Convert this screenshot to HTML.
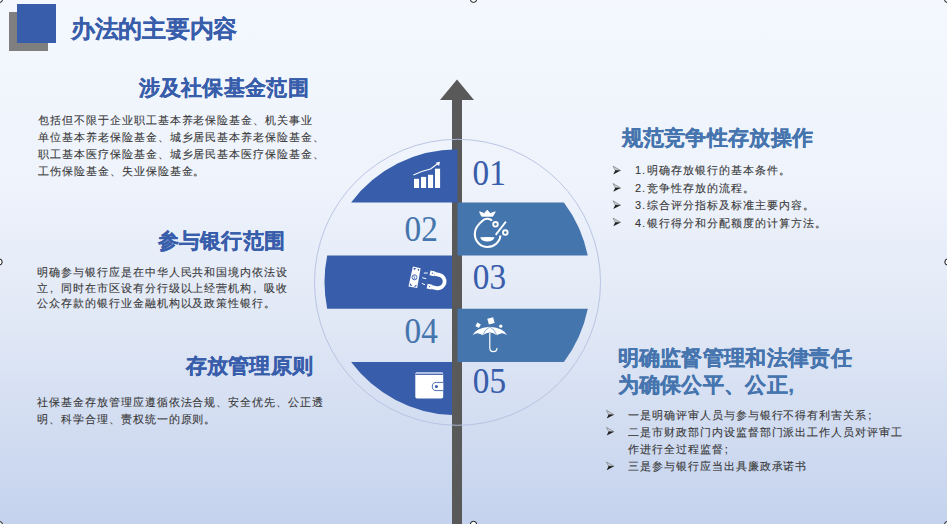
<!DOCTYPE html>
<html><head><meta charset="utf-8">
<style>
html,body{margin:0;padding:0;}
body{width:947px;height:524px;overflow:hidden;position:relative;font-family:"Liberation Sans",sans-serif;
background:linear-gradient(180deg,#f4f8fe 0%,#eef3fc 35%,#e2e9f6 60%,#c4d2ed 100%);}
.abs{position:absolute;white-space:nowrap;}
.h{font-weight:bold;font-size:21px;letter-spacing:0.33px;line-height:24px;-webkit-text-stroke:0.25px currentColor;}
.hl{color:#385dab;}
.hr{color:#4574ae;}
.p{font-size:11px;letter-spacing:0.96px;color:#383838;-webkit-text-stroke:0.1px #383838;}
.bl{position:absolute;font-size:11px;letter-spacing:0.96px;color:#383838;white-space:nowrap;-webkit-text-stroke:0.1px #383838;}
</style></head><body>
<!-- title block -->
<div class="abs" style="left:9px;top:12px;width:39px;height:39px;background:#7f7f7f"></div>
<div class="abs" style="left:17px;top:4px;width:39px;height:39px;background:#385dab"></div>
<div class="abs" style="left:71px;top:14.3px;letter-spacing:-0.3px;font-size:24px;font-weight:bold;color:#385dab;line-height:30px;-webkit-text-stroke:0.1px #385dab">办法的主要内容</div>

<!-- left blocks -->
<div class="abs h hl" style="left:138.5px;top:75.5px">涉及社保基金范围</div>
<div class="abs p" style="left:38px;top:111.5px;line-height:17.1px">包括但不限于企业职工基本养老保险基金、机关事业<br>单位基本养老保险基金、城乡居民基本养老保险基金、<br>职工基本医疗保险基金、城乡居民基本医疗保险基金、<br>工伤保险基金、失业保险基金。</div>

<div class="abs h hl" style="left:157.5px;top:229.4px">参与银行范围</div>
<div class="abs p" style="left:37px;top:265px;line-height:15.5px">明确参与银行应是在中华人民共和国境内依法设<br>立<span style="display:inline-block;width:11.96px;text-indent:1px">,</span>同时在市区设有分行级以上经营机构<span style="display:inline-block;width:11.96px;text-indent:1px">,</span>吸收<br>公众存款的银行业金融机构以及政策性银行。</div>

<div class="abs h hl" style="left:185.5px;top:353.5px">存放管理原则</div>
<div class="abs p" style="left:37px;top:393.5px;line-height:17.2px">社保基金存放管理应遵循依法合规、安全优先、公正透<br>明、科学合理、责权统一的原则。</div>

<!-- right blocks -->
<div class="abs h hr" style="left:621.5px;top:126px">规范竞争性存放操作</div>
<div class="bl" style="left:635px;top:163px">1.<span style="margin-left:-3px"> </span>明确存放银行的基本条件。</div>
<div class="bl" style="left:635px;top:180.8px">2.<span style="margin-left:-3px"> </span>竞争性存放的流程。</div>
<div class="bl" style="left:635px;top:198.1px">3.<span style="margin-left:-3px"> </span>综合评分指标及标准主要内容。</div>
<div class="bl" style="left:635px;top:215.5px">4.<span style="margin-left:-3px"> </span>银行得分和分配额度的计算方法。</div>

<div class="abs h hr" style="left:617.5px;top:345px;line-height:26.8px">明确监督管理和法律责任<br>为确保公平、公正,</div>
<div class="bl" style="left:628px;top:407.5px">一是明确评审人员与参与银行不得有利害关系<span style="display:inline-block;width:11.96px;text-indent:1px">;</span></div>
<div class="bl" style="left:628px;top:423.6px;line-height:17.3px">二是市财政部门内设监督部门派出工作人员对评审工<br>作进行全过程监督<span style="display:inline-block;width:11.96px;text-indent:1px">;</span></div>
<div class="bl" style="left:628px;top:459px">三是参与银行应当出具廉政承诺书</div>

<!-- diagram -->
<svg class="abs" style="left:0;top:0" width="947" height="524" viewBox="0 0 947 524">
  <!-- shaft -->
  <rect x="452" y="99" width="10" height="425" fill="#595959"/>
  <polygon points="457,79.5 440,100 474,100" fill="#595959"/>
  <!-- segments -->
  <path d="M457.5,149.2 A133,133 0 0 0 351.1,202.4 L457.5,202.4 Z" fill="#385dab"/>
  <path d="M457.5,202.4 L563.9,202.4 A133,133 0 0 1 587.8,255.6 L457.5,255.6 Z" fill="#4575ad"/>
  <path d="M452,255.6 L327.2,255.6 A133,133 0 0 0 327.2,308.8 L452,308.8 Z" fill="#385dab"/>
  <path d="M457.5,308.8 L587.8,308.8 A133,133 0 0 1 563.9,362 L457.5,362 Z" fill="#4575ad"/>
  <path d="M452,362 L351.1,362 A133,133 0 0 0 452,415.1 Z" fill="#385dab"/>
  <circle cx="457.5" cy="282.3" r="143" fill="none" stroke="#b2c0e0" stroke-width="0.9"/>
  <!-- numbers -->
  <g font-family="Liberation Serif" font-size="35" stroke-width="0.1">
    <text transform="translate(472.6 184.6) scale(0.95 1)" fill="#385dab" stroke="#385dab">01</text>
    <text transform="translate(404.6 241) scale(0.95 1)" fill="#4575ad" stroke="#4575ad">02</text>
    <text transform="translate(472.8 288.6) scale(0.95 1)" fill="#385dab" stroke="#385dab">03</text>
    <text transform="translate(404.6 342.9) scale(0.95 1)" fill="#4575ad" stroke="#4575ad">04</text>
    <text transform="translate(472.8 393.2) scale(0.95 1)" fill="#385dab" stroke="#385dab">05</text>
  </g>
  <!-- icon1 bar chart -->
  <g fill="#fff">
    <rect x="414" y="178.8" width="5.1" height="9.2"/>
    <rect x="421" y="176.9" width="5.1" height="11.1"/>
    <rect x="428" y="174.8" width="5.1" height="13.2"/>
    <rect x="435" y="168.7" width="5.1" height="19.3"/>
    <path d="M413.4,174.9 Q421,171.2 430.5,169 L438,163.5" fill="none" stroke="#fff" stroke-width="1.1"/>
    <polygon points="440,161.8 435.6,162.8 439.1,166"/>
  </g>
  <!-- icon2 bag -->
  <g fill="#fff">
    <polygon points="479.6,211.8 484.2,213.6 487.2,210.2 490.3,213.6 495.2,211.8 492.8,216.2 481.6,216.2" stroke="#fff" stroke-width="0.9" stroke-linejoin="round"/>
    <path d="M491.8,220.8 C490.5,218.2 484.5,217.8 482.5,220.8 C478,224.5 474.8,228.5 474.8,234 C475,242 481,247 487.5,247 C494,247 500,242 500.4,235.5" fill="none" stroke="#fff" stroke-width="2.1"/>
    <path d="M480.2,237.2 Q487.3,236.8 494.6,237.2 Q493,241.6 487.4,241.6 Q481.5,241.6 480.2,237.2 Z"/>
    <circle cx="495.5" cy="224.3" r="2.3" fill="none" stroke="#fff" stroke-width="1.9"/>
    <circle cx="505.3" cy="232.6" r="2.3" fill="none" stroke="#fff" stroke-width="1.9"/>
    <line x1="505.9" y1="221.6" x2="495.7" y2="234.9" stroke="#fff" stroke-width="1.8"/>
  </g>
  <!-- icon3 magnet -->
  <g fill="#fff">
    <polygon points="412.9,266.4 420.6,268.3 417.2,288 408.5,286.5"/>
    <g fill="#385dab">
      <polygon points="413.6,267.8 416.3,268.5 413.9,270.3"/>
      <polygon points="417.3,268.7 419.4,269.2 418.7,271.3"/>
      <polygon points="409.8,285.6 410.3,282.9 412.3,286"/>
      <polygon points="416.2,286.8 413.6,286.4 416.6,284.4"/>
    </g>
    <circle cx="414.5" cy="277.3" r="2.5" fill="none" stroke="#385dab" stroke-width="0.9"/>
    <path d="M415.3,275.9 Q413.3,275.6 413.8,277.2 Q415.4,277.5 415,278.8 Q413.6,279 413.4,278.5" fill="none" stroke="#385dab" stroke-width="0.6"/>
    <g stroke="#fff" stroke-width="1" fill="none" stroke-linecap="round">
      <line x1="424.2" y1="273.1" x2="427.3" y2="273"/>
      <line x1="422.6" y1="277.8" x2="425.8" y2="278.6"/>
      <line x1="422.2" y1="283.5" x2="424.6" y2="284.6"/>
    </g>
    <g transform="translate(-1.3 0) rotate(12 437 281)">
      <path d="M434.5,274.2 H439.2 A6.8,6.8 0 0 1 439.2,287.8 H434.5" fill="none" stroke="#fff" stroke-width="3.8"/>
      <rect x="429.7" y="271.8" width="4.9" height="4.8"/>
      <rect x="429.7" y="285.4" width="4.9" height="4.8"/>
      <rect x="431.6" y="273.6" width="1.1" height="1.1" fill="#385dab"/>
      <rect x="431.6" y="287.2" width="1.1" height="1.1" fill="#385dab"/>
    </g>
  </g>
  <!-- icon4 umbrella -->
  <g fill="#fff">
    <path d="M472.6,335.3 Q475.5,328 489.8,326.7 Q504,328 507,335.3 Q504,333 501,333.4 Q498.5,333.8 496.8,335.3 Q493.5,332.4 489.8,332.4 Q486.2,332.4 482.8,335.3 Q481,333.8 478.5,333.4 Q475.6,333 472.6,335.3 Z"/>
    <path d="M489.8,327 Q484.5,329.5 482.8,335.3 M489.8,327 Q495,329.5 496.8,335.3" fill="none" stroke="#4575ad" stroke-width="0.6"/>
    <path d="M489.8,333 L489.8,348 Q489.8,351.6 493.4,351.6 Q497,351.6 497,348" fill="none" stroke="#fff" stroke-width="1.2"/>
    <rect x="488" y="317.8" width="6" height="6" transform="rotate(-15 491 320.8)"/>
    <rect x="476.1" y="323.3" width="4" height="4" transform="rotate(30 478.1 325.3)"/>
    <circle cx="500.8" cy="326.2" r="1.6"/>
  </g>
  <!-- icon5 wallet -->
  <g>
    <rect x="415.3" y="372.3" width="27.9" height="26.3" rx="1.8" fill="#fff"/>
    <rect x="416" y="372.3" width="26.5" height="1.9" fill="#a9b9e0"/>
    <rect x="415.3" y="374.1" width="27.9" height="0.9" fill="#3f5fa9"/>
    <path d="M443.2,382.4 L436.4,382.4 A4.1,4.1 0 0 0 436.4,390.6 L443.2,390.6" fill="#fff" stroke="#385dab" stroke-width="0.9"/>
    <circle cx="436.4" cy="386.5" r="1.5" fill="#385dab"/>
  </g>
  <!-- bullet arrows -->
  <defs><g id="ar"><path d="M0,0 L7.6,4.4 L2.2,4.2 Z" fill="#c9cfdb" stroke="#707070" stroke-width="0.6"/><path d="M2.2,4.2 L7.6,4.4 L0.3,8.3 Z" fill="#1e1e1e"/></g></defs>
  <use href="#ar" x="613" y="166.1"/>
  <use href="#ar" x="613" y="183.5"/>
  <use href="#ar" x="613" y="200.8"/>
  <use href="#ar" x="613" y="218"/>
  <use href="#ar" x="606.4" y="410.3"/>
  <use href="#ar" x="606.4" y="427.3"/>
  <use href="#ar" x="606.4" y="461.9"/>
  <!-- selection handles -->
  <g fill="#fff" stroke="#111" stroke-width="1">
    <circle cx="-0.5" cy="-0.5" r="3"/>
    <circle cx="473.5" cy="-0.8" r="3.2"/>
    <circle cx="947.5" cy="-0.5" r="3"/>
    <circle cx="-1" cy="262" r="3.2"/>
    <circle cx="948" cy="262" r="3.2"/>
    <circle cx="-0.5" cy="524.5" r="3"/>
    <circle cx="473.5" cy="524.5" r="3.2"/>
    <circle cx="947.5" cy="524.5" r="3"/>
  </g>
</svg>
</body></html>
